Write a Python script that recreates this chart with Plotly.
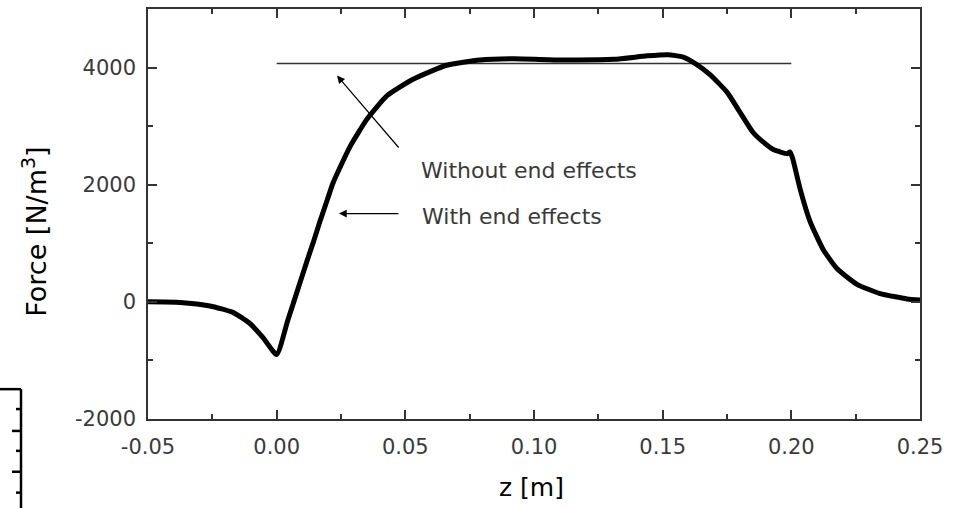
import plotly.graph_objects as go

# Curve with end effects
z_with = [-0.05, -0.0376, -0.0259, -0.017, -0.0104, -0.0053, 0.0, 0.0043, 0.0093, 0.0118,
          0.0144, 0.0168, 0.0198, 0.0219, 0.0285, 0.0351, 0.0429, 0.053, 0.066, 0.079,
          0.092, 0.111, 0.131, 0.144, 0.152, 0.158, 0.163, 0.1684, 0.175, 0.18,
          0.185, 0.189, 0.193, 0.1985, 0.1995, 0.2005, 0.2034, 0.2073, 0.2123, 0.2177,
          0.2255, 0.2345, 0.245, 0.25]
F_with = [0, -10, -70, -180, -370, -610, -900, -320, 360, 700,
          1040, 1370, 1760, 2030, 2650, 3120, 3520, 3800, 4040, 4130,
          4150, 4130, 4140, 4200, 4220, 4180, 4060, 3880, 3580, 3240,
          2900, 2730, 2600, 2530, 2560, 2450, 1930, 1370, 900, 570,
          300, 140, 50, 30]

# Without end effects (constant level)
z_without = [0.0, 0.20]
F_without = [4070, 4070]

x_ticks = [-0.05, 0.0, 0.05, 0.10, 0.15, 0.20, 0.25]
x_ticklabels = ["-0.05", "0.00", "0.05", "0.10", "0.15", "0.20", "0.25"]
y_ticks = [-2000, 0, 2000, 4000]
y_ticklabels = ["-2000", "0", "2000", "4000"]

FONT = "DejaVu Sans"
AX = "#333333"

fig = go.Figure()
fig.add_trace(go.Scatter(x=z_without, y=F_without, mode="lines",
                         line=dict(color="#333333", width=1.5), showlegend=False))
fig.add_trace(go.Scatter(x=z_with, y=F_with, mode="lines",
                         line=dict(color="black", width=5, shape="spline", smoothing=0.5),
                         showlegend=False))

axis_common = dict(showgrid=False, zeroline=False, showline=True, linecolor=AX, linewidth=1.5,
                   mirror="allticks", ticks="inside", ticklen=9, tickwidth=1.5, tickcolor=AX,
                   tickfont=dict(family=FONT, size=21, color="#3a3a3a"))

fig.update_xaxes(range=[-0.05, 0.25], tickvals=x_ticks, ticktext=x_ticklabels,
                 minor=dict(dtick=0.025, ticks="inside", ticklen=5, tickwidth=1.5, tickcolor=AX),
                 ticklabelstandoff=8, **axis_common)
fig.update_yaxes(range=[-2000, 5000], tickvals=y_ticks, ticktext=y_ticklabels,
                 minor=dict(dtick=1000, ticks="inside", ticklen=5, tickwidth=1.5, tickcolor=AX),
                 ticklabelstandoff=6, **axis_common)

anns = []
# axis titles
anns.append(dict(text="z [m]", xref="paper", yref="paper", x=0.497, y=-0.167,
                 xanchor="center", yanchor="middle", showarrow=False,
                 font=dict(family=FONT, size=25, color="black")))
anns.append(dict(text="Force [N/m<sup>3</sup>]", xref="paper", yref="paper", x=-0.148, y=0.456,
                 xanchor="center", yanchor="middle", textangle=-90, showarrow=False,
                 font=dict(family=FONT, size=27, color="black")))
# labels
anns.append(dict(text="Without end effects", x=0.0553, y=2237, xanchor="left", yanchor="middle",
                 showarrow=False, font=dict(family=FONT, size=22, color="#3a3a3a")))
anns.append(dict(text="With end effects", x=0.0557, y=1458, xanchor="left", yanchor="middle",
                 showarrow=False, font=dict(family=FONT, size=22, color="#3a3a3a")))
# arrows
anns.append(dict(text="", x=0.02345, y=3864, ax=0.0479, ay=2610, axref="x", ayref="y",
                 showarrow=True, arrowhead=2, arrowsize=1.3, arrowwidth=1.2, arrowcolor="black",
                 standoff=0, startstandoff=0))
anns.append(dict(text="", x=0.0242, y=1508, ax=0.0479, ay=1508, axref="x", ayref="y",
                 showarrow=True, arrowhead=2, arrowsize=1.3, arrowwidth=1.2, arrowcolor="black",
                 standoff=0, startstandoff=0))

# fragment of a neighbouring figure in the lower-left corner
shapes = []
px = lambda v: (v - 148) / 772.0
py = lambda v: (419 - v) / 412.0
shapes.append(dict(type="line", xref="paper", yref="paper", x0=px(21), x1=px(21), y0=py(389), y1=py(510),
                   line=dict(color="black", width=2.5)))
shapes.append(dict(type="line", xref="paper", yref="paper", x0=px(-2), x1=px(21), y0=py(389), y1=py(389),
                   line=dict(color="black", width=2.5)))
for yy, x0 in [(409, 16), (431, 12), (451, 16), (472, 12), (493, 16)]:
    shapes.append(dict(type="line", xref="paper", yref="paper", x0=px(x0), x1=px(21), y0=py(yy), y1=py(yy),
                       line=dict(color="black", width=2.5)))

fig.update_layout(width=957, height=508, margin=dict(l=148, r=37, t=7, b=89),
                  paper_bgcolor="white", plot_bgcolor="white",
                  annotations=anns, shapes=shapes, showlegend=False)

fig.write_html("out.html")
